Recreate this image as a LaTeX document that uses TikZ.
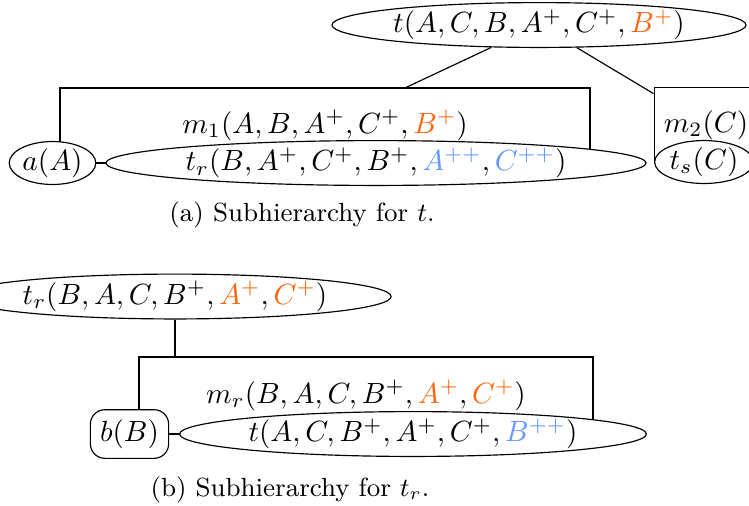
\documentclass[tikz,border=0pt]{standalone}
\usepackage{xcolor}
\usepackage{tikz}
\usetikzlibrary{shapes.geometric,positioning}
\definecolor{newvar}{RGB}{255,102,17}
\definecolor{twovar}{RGB}{102,153,255}

\begin{document}
\begin{tikzpicture}[x=0.3425pt,y=-0.3425pt,
  task/.style={ellipse,draw,fill=white,inner sep=0.2pt},
  method/.style={rectangle,draw,minimum height=25.7pt},
  prim/.style={rectangle,rounded corners=5pt,draw,fill=white}]
  \useasboundingbox (0,0) rectangle (749,505);
  % (a) Subhierarchy for t
  \node[method,minimum width=181.5pt] (m1) at (325,125.5) {$m_1(A,B,A^+,C^+,\textcolor{newvar}{B^+})$};
  \node[method] (m2) at (706,125) {$m_2(C)$};
  \node[task] (t) at (539,25) {$t(A,C,B,A^+,C^+,\textcolor{newvar}{B^+})$};
  \draw (t) -- (m1);
  \draw (t) -- (m2);
  \node[task] (a)  at (52.5,163) {$a(A)$};
  \node[task] (tr) at (376,163)  {$t_r(B,A^+,C^+,B^+,\textcolor{twovar}{A^{++}},\textcolor{twovar}{C^{++}})$};
  \node[task] (ts) at (704,162)  {$t_s(C)$};
  \draw (a) -- (tr);
  \node (capa) at (302,215) {\small (a) Subhierarchy for $t$.};
  % (b) Subhierarchy for t_r
  \node[method,minimum width=155.5pt,minimum height=26.4pt] (mr) at (366,395.5) {$m_r(B,A,C,B^+,\textcolor{newvar}{A^+},\textcolor{newvar}{C^+})$};
  \node[task] (trb) at (175,296.5) {$t_r(B,A,C,B^+,\textcolor{newvar}{A^+},\textcolor{newvar}{C^+})$};
  \draw (trb.south) -- (trb.south |- mr.north);
  \node[prim] (b)  at (129.5,434) {$b(B)$};
  \node[task] (tb) at (413,434)   {$t(A,C,B^+,A^+,C^+,\textcolor{twovar}{B^{++}})$};
  \draw (b) -- (tb);
  \node (capb) at (290,490) {\small (b) Subhierarchy for $t_r$.};
\end{tikzpicture}
\end{document}
